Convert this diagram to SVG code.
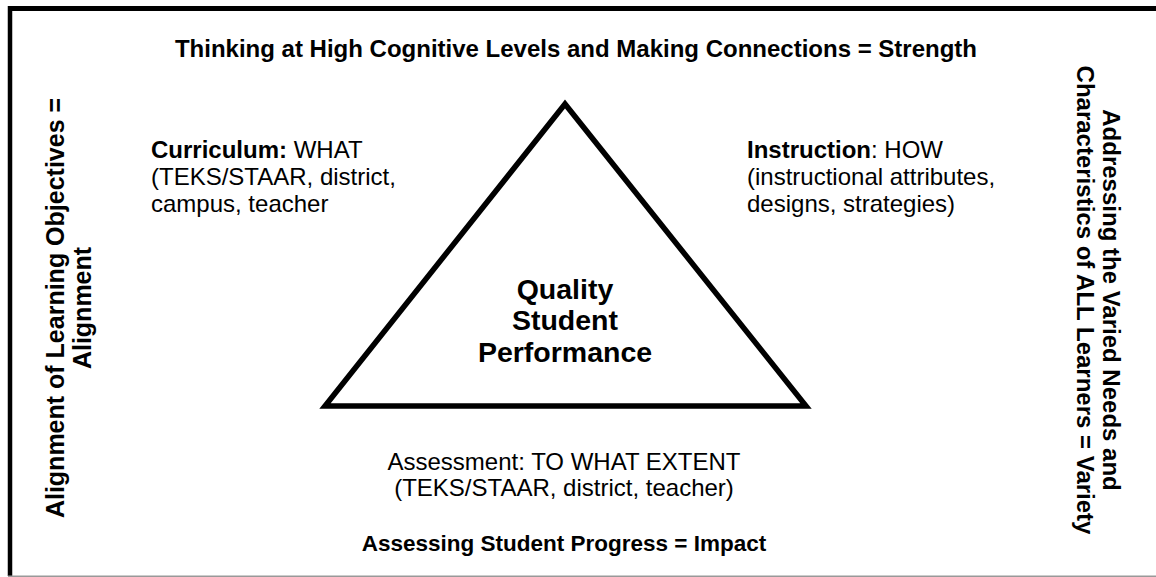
<svg xmlns="http://www.w3.org/2000/svg" width="1156" height="577" viewBox="0 0 1156 577">
<style>
text{font-family:"Liberation Sans",Arial,sans-serif;fill:#000}
.b{font-weight:bold;font-size:24px}
.r{font-size:24px}
.c{font-weight:bold;font-size:28.5px}
</style>
<rect x="0" y="0" width="1156" height="577" fill="#fff"/>
<g id="frame">
<line x1="8" y1="8.5" x2="1156" y2="8.5" stroke="#000" stroke-width="5"/>
<line x1="10" y1="6" x2="10" y2="576" stroke="#000" stroke-width="4.5"/>
<line x1="8" y1="576.3" x2="1156" y2="576.3" stroke="#999" stroke-width="1.5"/>
</g>
<g id="connectors"></g>
<g id="triangle">
<polygon points="565,104 325,406 806,406" fill="none" stroke="#000" stroke-width="5.5" stroke-linejoin="miter"/>
<text class="c" text-anchor="middle"><tspan x="565" y="299">Quality</tspan><tspan x="565" y="330">Student</tspan><tspan x="565" y="362">Performance</tspan></text>
</g>
<g id="title-top"><text class="b" x="576" y="57" text-anchor="middle">Thinking at High Cognitive Levels and Making Connections = Strength</text></g>
<g id="curriculum">
<text class="r" x="151" y="158"><tspan font-weight="bold">Curriculum:</tspan> WHAT</text>
<text class="r" x="151" y="185">(TEKS/STAAR, district,</text>
<text class="r" x="151" y="212">campus, teacher</text>
</g>
<g id="instruction">
<text class="r" x="747" y="158"><tspan font-weight="bold">Instruction</tspan>: HOW</text>
<text class="r" x="747" y="185">(instructional attributes,</text>
<text class="r" x="747" y="212">designs, strategies)</text>
</g>
<g id="assessment">
<text class="r" x="564" y="470" text-anchor="middle">Assessment: TO WHAT EXTENT</text>
<text class="r" x="564" y="496" text-anchor="middle">(TEKS/STAAR, district, teacher)</text>
</g>
<g id="title-bottom"><text class="b" x="564" y="551" text-anchor="middle" style="font-size:22.5px">Assessing Student Progress = Impact</text></g>
<g id="title-left">
<text class="b" text-anchor="middle" style="font-size:25px" transform="translate(64,308) rotate(-90)"><tspan x="0" y="0">Alignment of Learning Objectives =</tspan><tspan x="0" y="27">Alignment</tspan></text>
</g>
<g id="title-right">
<text class="b" text-anchor="middle" transform="translate(1103,300) rotate(90)"><tspan x="0" y="0">Addressing the Varied Needs and</tspan><tspan x="0" y="26">Characteristics of ALL Learners = Variety</tspan></text>
</g>
</svg>
